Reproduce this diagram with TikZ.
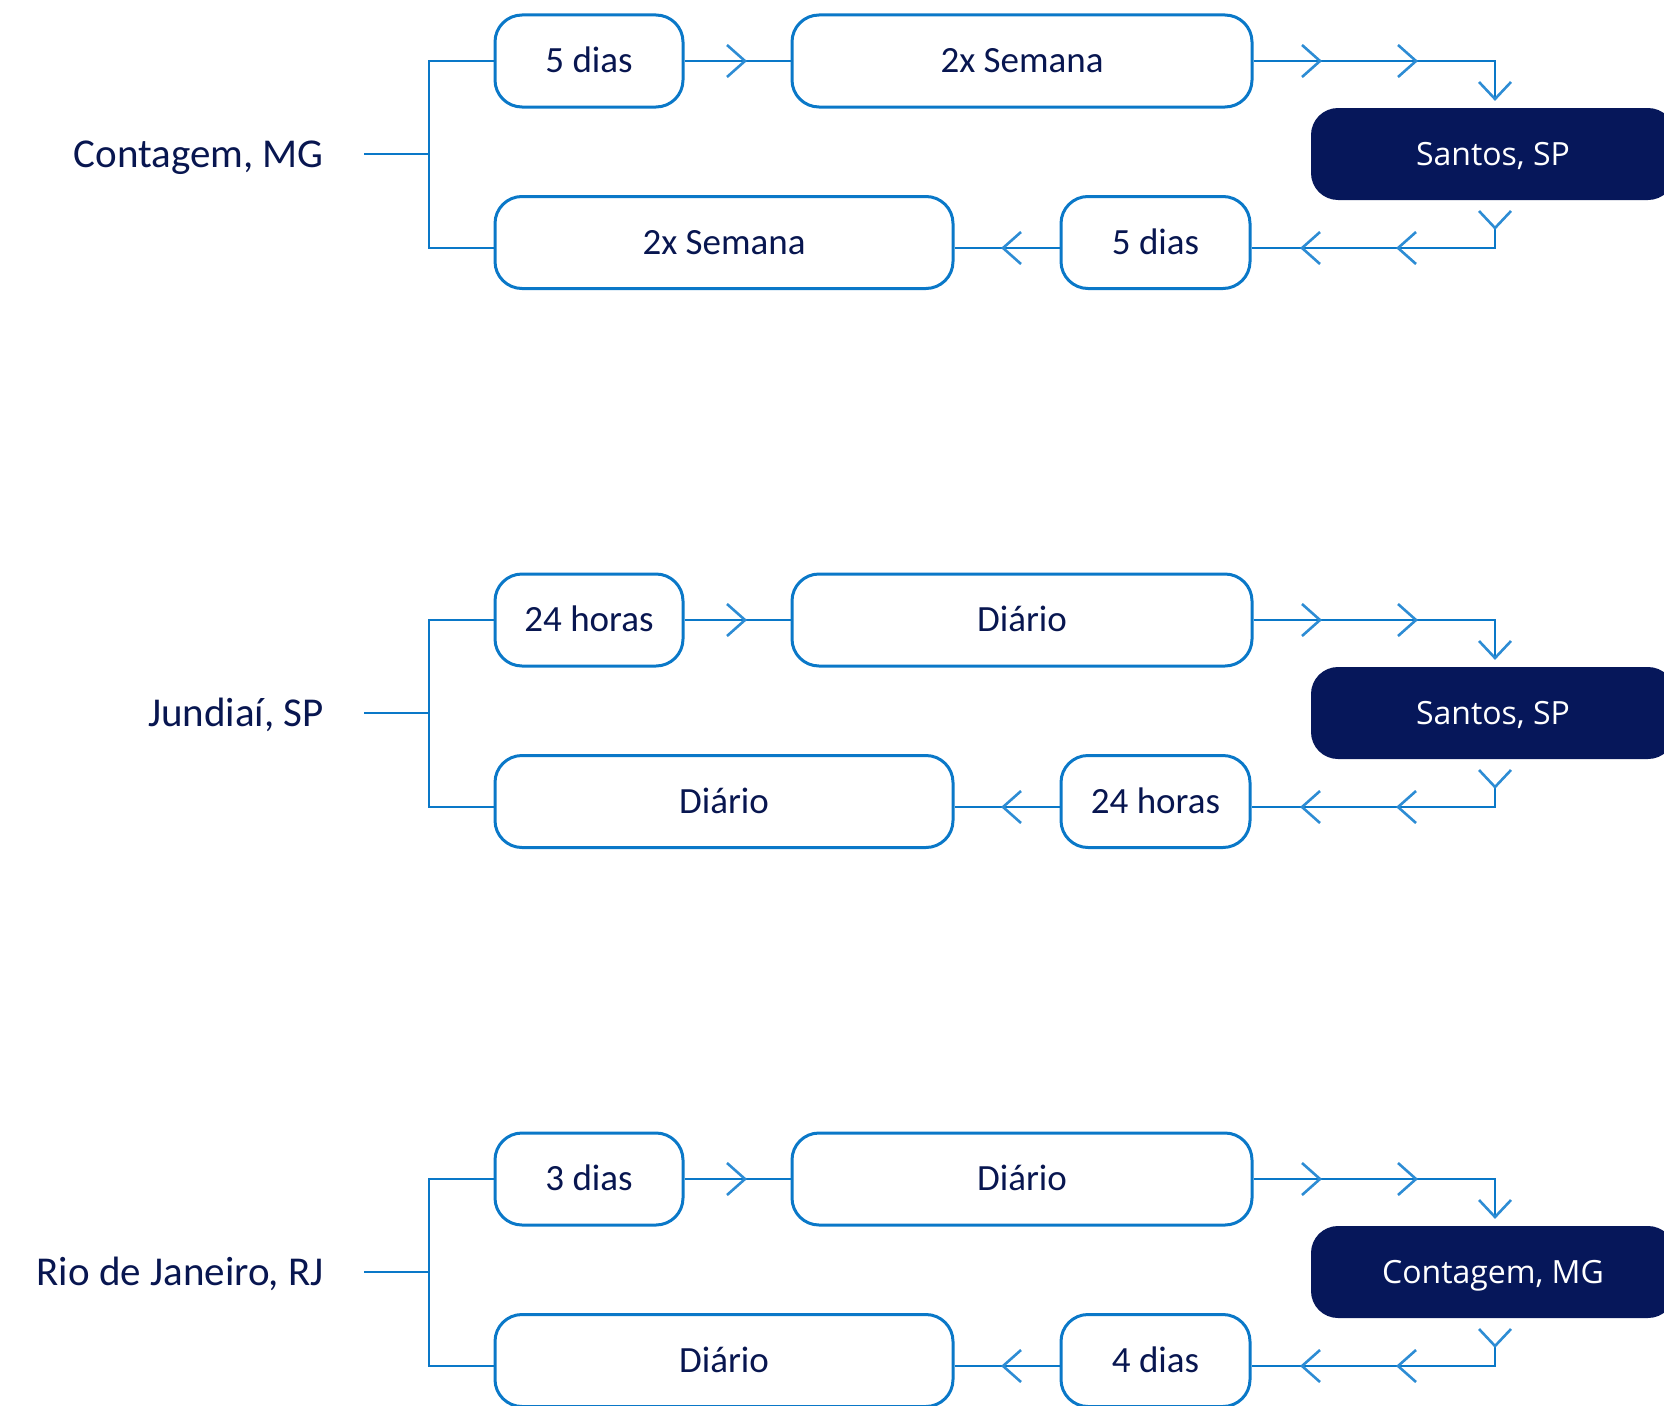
\documentclass[tikz,border=0pt]{standalone}
\usepackage{fontspec}
\setmainfont{Carlito}
\newfontfamily\whitefont{Open Sans}
\usetikzlibrary{calc}
\definecolor{lineblue}{RGB}{10,120,200}
\definecolor{chevblue}{RGB}{45,140,212}
\definecolor{navy}{RGB}{6,23,90}
\definecolor{textnavy}{RGB}{8,22,80}
\tikzset{
  conn/.style={draw=lineblue, line width=2.6pt},
  chev/.style={draw=chevblue, line width=2.6pt},
  stepbox/.style={draw=lineblue, line width=3pt, rounded corners=27pt, minimum height=92pt,
    inner sep=0pt, text=textnavy, text height=23.8pt, text depth=0pt,
    font=\fontsize{37}{44}\selectfont},
  destbox/.style={fill=navy, rounded corners=27pt, minimum height=92pt, minimum width=364pt,
    inner sep=0pt, text=white, text height=22.8pt, text depth=0pt,
    font=\whitefont\fontsize{32}{40}\selectfont},
  origin/.style={anchor=east, inner sep=0pt, text=textnavy, text height=26.4pt, text depth=0pt,
    font=\fontsize{41}{49}\selectfont},
}
\newcommand\chevright[1]{\draw[chev] ($(#1)+(-18,-16)$) -- (#1) -- ($(#1)+(-18,16)$);}
\newcommand\chevleft[1]{\draw[chev] ($(#1)+(18,-16)$) -- (#1) -- ($(#1)+(18,16)$);}
\newcommand\chevdown[1]{\draw[chev] ($(#1)+(-16,-17)$) -- (#1) -- ($(#1)+(16,-17)$);}
% #1 id, #2 offset, #3 origin, #4 A, #5 B, #6 dest, #7 C, #8 D
\newcommand\routeblock[8]{%
  \node[origin] (O#1) at (324,154+#2) {#3};
  \node[stepbox, minimum width=188pt] (A#1) at (589,61+#2) {#4};
  \node[stepbox, minimum width=460pt] (B#1) at (1022,61+#2) {#5};
  \node[destbox] (S#1) at (1493,154+#2) {#6};
  \node[stepbox, minimum width=189pt] (C#1) at (1155.5,242.5+#2) {#7};
  \node[stepbox, minimum width=458pt] (D#1) at (724,242.5+#2) {#8};
  \coordinate (J#1) at (429,154+#2);
  \coordinate (Sin#1) at ([xshift=2pt,yshift=9pt]S#1.north);
  \coordinate (Sout#1) at ([xshift=2pt,yshift=-28pt]S#1.south);
  \draw[conn] ([xshift=40pt]O#1.east) -- (J#1);
  \draw[conn] (A#1.west) -| (J#1) |- ([yshift=-5.5pt]D#1.west);
  \draw[conn] (A#1.east) -- (B#1.west);
  \draw[conn] (B#1.east) -| (Sin#1);
  \draw[conn] (Sout#1) |- ([yshift=-5.5pt]C#1.east);
  \draw[conn] ([yshift=-5.5pt]C#1.west) -- ([yshift=-5.5pt]D#1.east);
  \coordinate (k1#1) at (745,61+#2); \chevright{k1#1}
  \coordinate (k2#1) at (1320,61+#2); \chevright{k2#1}
  \coordinate (k3#1) at (1416,61+#2); \chevright{k3#1}
  \coordinate (k4#1) at (1495,99+#2); \chevdown{k4#1}
  \coordinate (k5#1) at (1495,228+#2); \chevdown{k5#1}
  \coordinate (k6#1) at (1302,248+#2); \chevleft{k6#1}
  \coordinate (k7#1) at (1398,248+#2); \chevleft{k7#1}
  \coordinate (k8#1) at (1003,248+#2); \chevleft{k8#1}
}
\begin{document}
\begin{tikzpicture}[x=1pt,y=-1pt]
\useasboundingbox (0,0) rectangle (1664,1405);
\clip (0,0) rectangle (1664,1405);
\routeblock{a}{0}{Contagem, MG}{5 dias}{2x Semana}{Santos, SP}{5 dias}{2x Semana}
\routeblock{b}{559}{Jundiaí, SP}{24 horas}{Diário}{Santos, SP}{24 horas}{Diário}
\routeblock{c}{1118}{Rio de Janeiro, RJ}{3 dias}{Diário}{Contagem, MG}{4 dias}{Diário}
\end{tikzpicture}
\end{document}
